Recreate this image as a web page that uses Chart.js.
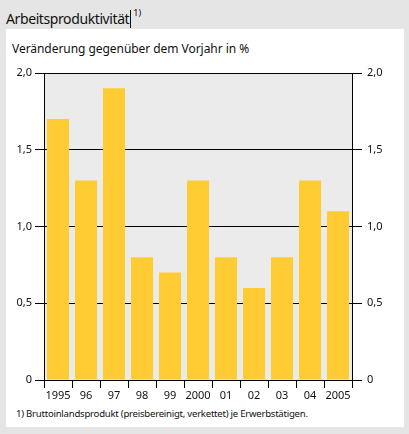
<!DOCTYPE html>
<html>
<head>
<meta charset="utf-8">
<script src="https://cdn.jsdelivr.net/npm/chart.js@4/dist/chart.umd.min.js"></script>
<style>
  html, body { margin: 0; padding: 0; }
  body { width: 409px; height: 434px; background: #e5e5e5; position: relative; overflow: hidden; font-family: "Noto Sans", sans-serif; color: #111; }
  .title { position: absolute; left: 6px; top: 3px; font-size: 14px; line-height: 20px; letter-spacing: -0.4px; }
  .title .bar { display: inline-block; width: 1px; height: 18px; background: #111; vertical-align: -4px; margin-left: 1px; }
  .title sup { font-size: 9px; vertical-align: 8px; margin-left: 2px; letter-spacing: 0; }
  .panel { position: absolute; left: 6px; top: 29px; width: 398px; height: 398px; background: #fff; }
  .subtitle { position: absolute; left: 12px; top: 41px; font-size: 12px; line-height: 16px; letter-spacing: -0.05px; }
  .note { position: absolute; left: 16px; top: 408px; font-size: 9.6px; line-height: 12px; letter-spacing: -0.25px; }
  #chart { position: absolute; left: 0; top: 0; }
</style>
</head>
<body>
<div class="title">Arbeitsproduktivität<span class="bar"></span><sup>1)</sup></div>
<div class="panel"></div>
<div class="subtitle">Veränderung gegenüber dem Vorjahr in %</div>
<div class="note">1) Bruttoinlandsprodukt (preisbereinigt, verkettet) je Erwerbstätigen.</div>
<canvas id="chart" width="409" height="434"></canvas>
<script>
const years = ["1995", "96", "97", "98", "99", "2000", "01", "02", "03", "04", "2005"];
const changes = [1.7, 1.3, 1.9, 0.8, 0.7, 1.3, 0.8, 0.6, 0.8, 1.3, 1.1];
const yTickLabels = ["0", "0,5", "1,0", "1,5", "2,0"];

// grey fill behind the plot area
const plotBackground = {
  id: "plotBackground",
  beforeDraw(chart) {
    const { ctx, chartArea } = chart;
    ctx.save();
    ctx.fillStyle = "#ebebeb";
    ctx.fillRect(chartArea.left, chartArea.top, chartArea.right - chartArea.left, chartArea.bottom - chartArea.top);
    ctx.restore();
  },
};

const tickFont = { family: "Noto Sans", size: 11 };

new Chart(document.getElementById("chart").getContext("2d"), {
  type: "bar",
  data: {
    labels: years,
    datasets: [
      {
        data: changes,
        backgroundColor: "#ffcc33",
        barPercentage: 0.79,
        categoryPercentage: 1,
      },
    ],
  },
  options: {
    responsive: false,
    animation: false,
    layout: { padding: { top: 73, left: 0, right: 0, bottom: 0 } },
    plugins: {
      legend: { display: false },
      tooltip: { enabled: false },
    },
    scales: {
      x: {
        offset: true,
        grid: { offset: true, drawOnChartArea: false, color: "#000", tickLength: 8 },
        border: { color: "#000" },
        ticks: { font: tickFont, color: "#111", padding: 1, maxRotation: 0, autoSkip: false },
        afterFit(scale) { scale.height = 54; },
      },
      y: {
        position: "left",
        min: 0,
        max: 2,
        grid: { color: "#000", tickLength: 9 },
        border: { color: "#000" },
        ticks: {
          stepSize: 0.5,
          font: tickFont,
          color: "#111",
          padding: 3,
          callback: (v, i) => yTickLabels[i],
        },
        afterFit(scale) { scale.width = 44; },
      },
      y2: {
        position: "right",
        min: 0,
        max: 2,
        grid: { drawOnChartArea: false, color: "#000", tickLength: 10 },
        border: { color: "#000" },
        ticks: {
          stepSize: 0.5,
          font: tickFont,
          color: "#111",
          padding: 5,
          callback: (v, i) => yTickLabels[i],
        },
        afterFit(scale) { scale.width = 57; },
      },
    },
  },
  plugins: [plotBackground],
});
</script>
</body>
</html>
